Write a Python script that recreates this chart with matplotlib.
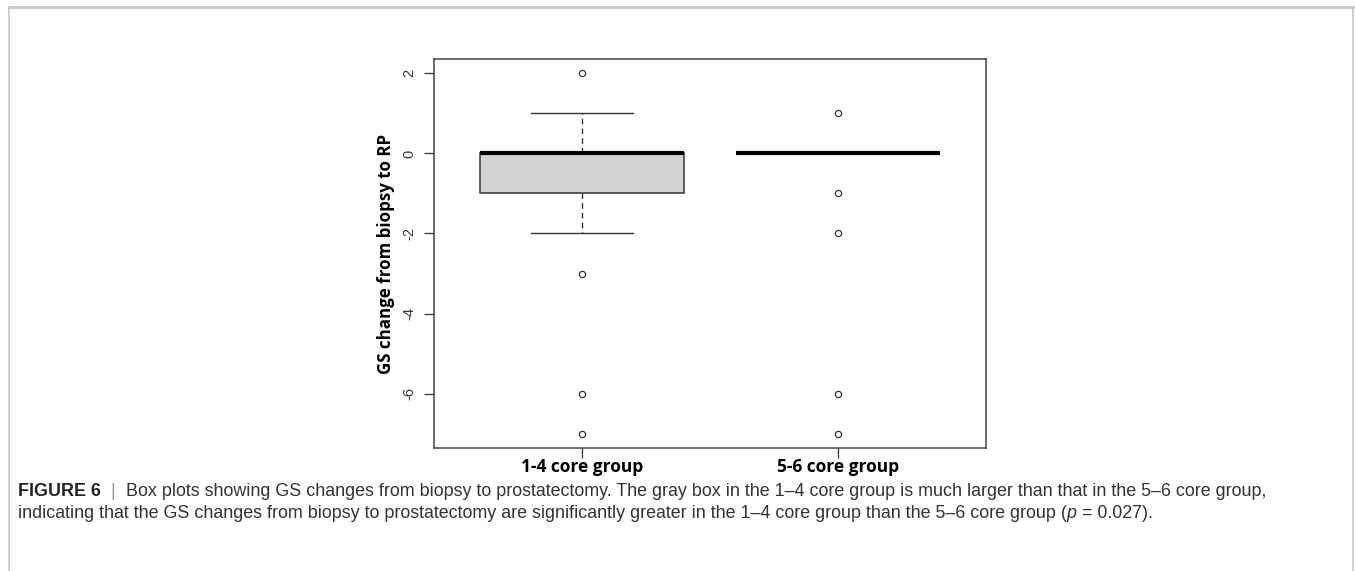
import matplotlib
matplotlib.use("Agg")
import matplotlib.pyplot as plt
from matplotlib.lines import Line2D

# box plot summary values
groups = ["1-4 core group", "5-6 core group"]
q1 = [-1, 0]
median = [0, 0]
q3 = [0, 0]
whisker_low = [-2, 0]
whisker_high = [1, 0]
outliers = [[2, -3, -6, -7], [1, -1, -2, -6, -7]]
yticks = [2, 0, -2, -4, -6]

stats = []
for i, g in enumerate(groups):
    stats.append(dict(label=g, q1=q1[i], med=median[i], q3=q3[i],
                      whislo=whisker_low[i], whishi=whisker_high[i],
                      fliers=outliers[i]))

fig = plt.figure(figsize=(13.55, 5.71), dpi=100)
ax = fig.add_axes([0.3203, 0.2154, 0.4074, 0.6813])

ax.bxp(stats, positions=[1, 2], widths=0.8, patch_artist=True,
       showcaps=True,
       boxprops=dict(facecolor="#d3d3d3", edgecolor="#333333", linewidth=1.1),
       medianprops=dict(color="black", linewidth=3, solid_capstyle="butt"),
       whiskerprops=dict(color="#333333", linewidth=1, linestyle=(0, (4, 3))),
       capprops=dict(color="#333333", linewidth=1),
       capwidths=0.4,
       flierprops=dict(marker="o", markersize=4.5, markerfacecolor="none",
                       markeredgecolor="#333333", markeredgewidth=0.9))

label_font = ["Open Sans", "DejaVu Sans"]
ax.set_xlim(0.42, 2.58)
ax.set_ylim(-7.36, 2.36)
ax.set_yticks(yticks)
ax.set_yticklabels([str(v) for v in yticks], rotation=90, va="center",
                   fontsize=10.5, color="#333333", family="Liberation Sans")
ax.set_xticks([1, 2])
ax.set_xticklabels(groups, fontsize=12.5, fontweight="bold", family=label_font)
ax.tick_params(axis="both", direction="out", length=7, color="#333333", width=0.9)
ax.tick_params(axis="y", pad=6)
ax.tick_params(axis="x", pad=0)
for s in ax.spines.values():
    s.set_color("#444444")
    s.set_linewidth(1.1)
ax.set_ylabel("GS change from biopsy to RP", fontsize=12.2, fontweight="bold",
              family=label_font, labelpad=5)

# page frame around the figure
frame_col = "#c8c8c8"
fig.add_artist(Line2D([9 / 1355, 1353 / 1355], [1 - 7 / 571, 1 - 7 / 571],
                      transform=fig.transFigure, color=frame_col, lw=2))
fig.add_artist(Line2D([9 / 1355, 9 / 1355], [0, 1 - 7 / 571],
                      transform=fig.transFigure, color=frame_col, lw=1.2))
fig.add_artist(Line2D([1353 / 1355, 1353 / 1355], [0, 1 - 7 / 571],
                      transform=fig.transFigure, color=frame_col, lw=1.2))

# caption, built from pieces placed one after the other
cap_font = ["Liberation Sans", "DejaVu Sans"]
cap_size = 12.9
line1 = [("FIGURE 6", "bold", "normal", "#222222"),
         ("  |  ", "normal", "normal", "#999999"),
         ("Box plots showing GS changes from biopsy to prostatectomy. The gray box in the 1\u20134 core group "
          "is much larger than that in the 5\u20136 core group,", "normal", "normal", "#333333")]
line2 = [("indicating that the GS changes from biopsy to prostatectomy are significantly greater in the "
          "1\u20134 core group than the 5\u20136 core group (", "normal", "normal", "#333333"),
         ("p", "normal", "italic", "#333333"),
         (" = 0.027).", "normal", "normal", "#333333")]

fig.canvas.draw()
renderer = fig.canvas.get_renderer()
for line, ypix in [(line1, 496), (line2, 518)]:
    x = 18
    for txt, weight, style, col in line:
        t = fig.text(x / 1355, 1 - ypix / 571, txt, fontsize=cap_size, fontweight=weight,
                     fontstyle=style, color=col, family=cap_font, va="baseline", ha="left")
        bb = t.get_window_extent(renderer=renderer)
        x += bb.width

fig.savefig("out.png", dpi=100)
